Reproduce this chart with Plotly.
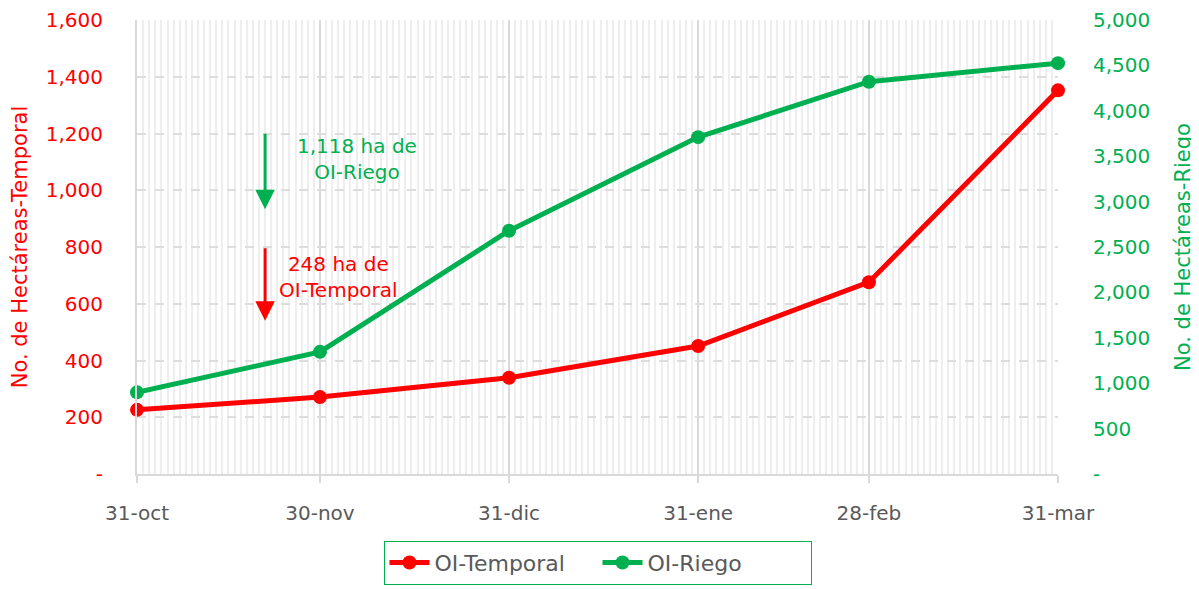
import plotly.graph_objects as go

dates = ["2022-10-31", "2022-11-30", "2022-12-31", "2023-01-31", "2023-02-28", "2023-03-31"]
tick_labels = ["31-oct", "30-nov", "31-dic", "31-ene", "28-feb", "31-mar"]
oi_temporal = [226, 271, 339, 451, 676, 1352]
oi_riego = [899, 1345, 2679, 3710, 4320, 4525]

left_ticks = [0, 200, 400, 600, 800, 1000, 1200, 1400, 1600]
left_labels = ["-", "200", "400", "600", "800", "1,000", "1,200", "1,400", "1,600"]
right_ticks = [0, 500, 1000, 1500, 2000, 2500, 3000, 3500, 4000, 4500, 5000]
right_labels = ["-", "500", "1,000", "1,500", "2,000", "2,500", "3,000", "3,500", "4,000", "4,500", "5,000"]

RED = "#FF0000"
GREEN = "#00B050"
GRAY_TXT = "#595959"
FONT = "DejaVu Sans"

fig = go.Figure()
fig.add_trace(go.Scatter(x=dates, y=oi_temporal, name="OI-Temporal", mode="lines+markers",
                         line=dict(color=RED, width=5), marker=dict(size=14, color=RED),
                         cliponaxis=False, yaxis="y"))
fig.add_trace(go.Scatter(x=dates, y=oi_riego, name="OI-Riego", mode="lines+markers",
                         line=dict(color=GREEN, width=5), marker=dict(size=14, color=GREEN),
                         cliponaxis=False, yaxis="y2"))

# page body has an 8px margin; margins below compensate so the plot area lands at 137..1058 x 20..476
fig.update_layout(
    width=1199, height=589,
    margin=dict(l=129, r=149, t=12, b=121),
    paper_bgcolor="white", plot_bgcolor="white",
    font=dict(family=FONT, size=20, color=GRAY_TXT),
    showlegend=True,
    legend=dict(orientation="h", x=0.5, xanchor="center", y=-0.147, yanchor="top",
                bordercolor=GREEN, borderwidth=1, font=dict(size=22, color=GRAY_TXT),
                entrywidth=158, itemwidth=40),
    xaxis=dict(
        type="date", range=[dates[0], dates[-1]], automargin=False,
        tickvals=dates, ticktext=tick_labels,
        showgrid=True, gridcolor="#D9D9D9", gridwidth=2,
        ticks="outside", ticklen=7, tickcolor="#D9D9D9", tickwidth=2,
        ticklabelstandoff=13,
        showline=True, linecolor="#D9D9D9", linewidth=2,
        tickfont=dict(size=20, color=GRAY_TXT),
        minor=dict(dtick=86400000, tick0=dates[0], showgrid=True, gridcolor="#EEEEEE", gridwidth=2),
        zeroline=False,
    ),
    yaxis=dict(
        range=[0, 1600], tickvals=left_ticks, ticktext=left_labels, automargin=False,
        showgrid=True, gridcolor="#DDDDDD", griddash="dash", gridwidth=2,
        showline=True, linecolor="#D9D9D9", linewidth=2,
        ticks="", ticklabelstandoff=28,
        tickfont=dict(size=20, color=RED),
        title=dict(text="No. de Hectáreas-Temporal", font=dict(size=21, color=RED), standoff=12),
        zeroline=False,
    ),
    yaxis2=dict(
        range=[0, 5000], tickvals=right_ticks, ticktext=right_labels, automargin=False,
        overlaying="y", side="right", showgrid=False,
        ticks="", ticklabelstandoff=34,
        tickfont=dict(size=20, color=GREEN),
        title=dict(text="No. de Hectáreas-Riego", font=dict(size=21, color=GREEN), standoff=26),
        zeroline=False,
    ),
)

arrow_x = "2022-11-21"
fig.add_annotation(x=arrow_x, y=933, xref="x", yref="y", ax=0, ay=-77, axref="pixel", ayref="pixel",
                   text="", showarrow=True, arrowhead=2, arrowsize=1.3, arrowwidth=3, arrowcolor=GREEN)
fig.add_annotation(x=arrow_x, y=540, xref="x", yref="y", ax=0, ay=-74, axref="pixel", ayref="pixel",
                   text="", showarrow=True, arrowhead=2, arrowsize=1.3, arrowwidth=3, arrowcolor=RED)
fig.add_annotation(x="2022-12-06", y=1109, xref="x", yref="y", text="1,118 ha de<br>OI-Riego",
                   showarrow=False, font=dict(size=20, color=GREEN), align="center")
fig.add_annotation(x="2022-12-03", y=696, xref="x", yref="y", text="248 ha de<br>OI-Temporal",
                   showarrow=False, font=dict(size=20, color=RED), align="center")

fig.write_html("out.html")
